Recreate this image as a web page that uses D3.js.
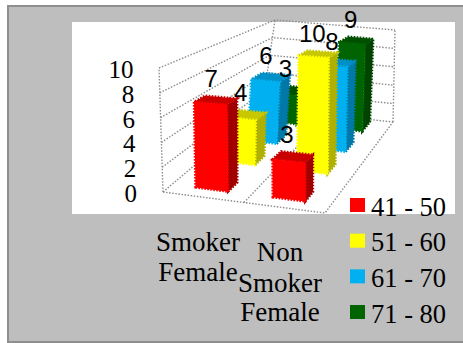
<!DOCTYPE html>
<html><head><meta charset="utf-8">
<script src="https://cdn.jsdelivr.net/npm/d3@7/dist/d3.min.js"></script>
<style>html,body{margin:0;padding:0;background:#fff}svg{display:block}</style>
</head><body><svg id="c" width="463" height="343"></svg>
<script>
const categories = ["Smoker Female", "Non Smoker Female"];
const seriesNames = ["41 - 50", "51 - 60", "61 - 70", "71 - 80"];
const seriesColors = ["#ff0000", "#ffff00", "#00b0f0", "#006400"];
const sideColors = ["#a00000", "#b0b000", "#0078a8", "#004400"];
const topColors = ["#c80000", "#c8c800", "#0090c8", "#005000"];
const smokerValues = [7, 4, 6, 3];
const nonSmokerValues = [3, 10, 8, 9];
const yTicks = [0, 2, 4, 6, 8, 10];

const svg = d3.select("#c");
svg.append("rect").attr("x", 8).attr("y", 6).attr("width", 460).attr("height", 336)
  .attr("fill", "#bebebe").attr("stroke", "#8e8e8e").attr("stroke-width", 2);
svg.append("rect").attr("x", 72).attr("y", 22).attr("width", 383).attr("height", 192).attr("fill", "#fff");

// Box corners of the 3D frame on screen
const floor = { fl: [163, 192], fr: [325, 213], bl: [262, 108], br: [393, 122] };
const wallH = { fl: 124, bl: 88, br: 92, fr: 134 };

const xs = d3.scaleBand().domain(categories).range([0, 0.97]);
const slot = d3.scalePoint().domain(seriesNames).range([0, 1]);
// Rows get closer together towards the back of the box
const depth = d3.scalePow().exponent(0.85).domain([0, 1]).range([0.09, 0.87]);
const zs = d3.scaleLinear().domain([0, 10]).range([0, 1]);
const barOffset = 0.148, barWidth = 0.205, barDepth = 0.105;

// u runs along the front edge, v runs towards the back, h is 0..1 of the wall height
function project(u, v, h) {
  const lerp = (a, b, t) => a + (b - a) * t;
  const fx = lerp(floor.fl[0], floor.fr[0], u), fy = lerp(floor.fl[1], floor.fr[1], u);
  const bx = lerp(floor.bl[0], floor.br[0], u), by = lerp(floor.bl[1], floor.br[1], u);
  const x = lerp(fx, bx, v), y = lerp(fy, by, v);
  const H = lerp(lerp(wallH.fl, wallH.fr, u), lerp(wallH.bl, wallH.br, u), v);
  return [x - 4 * h * (1 - u) * (1 - v) + 13 * h * v * (1 - u) + 2 * h * u * v, y - H * h];
}
const line = d3.line();
const chartG = svg.append("g");

// Dotted frame: walls, floor and the value grid
const frame = chartG.append("g").attr("fill", "none").attr("stroke", "#8c8c8c")
  .attr("stroke-width", 1.4).attr("stroke-dasharray", "1.5 1.6");
yTicks.forEach(t => {
  const h = zs(t);
  frame.append("path").attr("d", line([project(0, 0, h), project(0, 1, h), project(1, 1, h)]));
});
frame.append("path").attr("d", line([project(0, 0, 0), project(0, 0, 1)]));
frame.append("path").attr("d", line([project(0, 1, 0), project(0, 1, 1)]));
frame.append("path").attr("d", line([project(1, 1, 0), project(1, 1, 1)]));
frame.append("path").attr("d", line([project(0, 0, 0), project(1, 0, 0), project(1, 1, 0)]));
frame.append("path").attr("d", line([project(0.5, 0, 0), project(0.5, 1, 0)]));

// Bars, painted back to front
const table = [smokerValues, nonSmokerValues];
const bars = [];
categories.forEach((c, ci) => seriesNames.forEach((s, si) => bars.push({ c, ci, s, si, value: table[ci][si] })));
bars.sort((a, b) => (b.si - a.si) || (a.ci - b.ci));

const barG = chartG.append("g");
const labelG = svg.append("g").attr("font-family", "'Liberation Sans'").attr("font-size", 24).attr("fill", "#000").attr("text-anchor", "middle");
bars.forEach(b => {
  const u0 = xs(b.c) + barOffset, u1 = u0 + barWidth;
  const v0 = depth(slot(b.s)), v1 = v0 + barDepth;
  const h = zs(b.value);
  const faces = [
    { pts: [[u1, v0, 0], [u1, v1, 0], [u1, v1, h], [u1, v0, h]], fill: sideColors[b.si] },
    { pts: [[u0, v0, h], [u1, v0, h], [u1, v1, h], [u0, v1, h]], fill: topColors[b.si] },
    { pts: [[u0, v0, 0], [u1, v0, 0], [u1, v0, h], [u0, v0, h]], fill: seriesColors[b.si] }
  ];
  faces.forEach(f => {
    const p = f.pts.map(q => project(...q));
    barG.append("path").attr("d", line(p) + "Z").attr("fill", f.fill)
      .attr("stroke", f.fill).attr("stroke-width", 2.4).attr("stroke-dasharray", "1.6 1.4");
  });
  const top = project((u0 + u1) / 2, v1, h);
  labelG.append("text").attr("x", top[0] - 10).attr("y", top[1] - 10).text(b.value);
});

// Value axis labels, category labels and legend
const serif = "'Liberation Serif'";
const yAxisPos = d3.scaleLinear().domain([0, 10]).range([202, 78]);
const yAxisEdge = d3.scaleLinear().domain([0, 10]).range([137, 133.5]);
svg.append("g").attr("font-family", serif).attr("font-size", 25).attr("text-anchor", "end")
  .selectAll("text").data(yTicks).join("text")
  .attr("x", d => yAxisEdge(d)).attr("y", d => yAxisPos(d)).text(d => d);

const catLines = [["Smoker", "Female"], ["Non", "Smoker", "Female"]];
const catX = [198, 280], catY = [[251, 281], [261, 292, 321]];
const catG = svg.append("g").attr("font-family", serif).attr("font-size", 27).attr("text-anchor", "middle");
catLines.forEach((ls, i) => ls.forEach((t, j) =>
  catG.append("text").attr("x", catX[i]).attr("y", catY[i][j]).text(t)));

const legY = d3.scalePoint().domain(seriesNames).range([198, 305]);
const leg = svg.append("g");
seriesNames.forEach((s, i) => {
  leg.append("rect").attr("x", 350).attr("y", legY(s)).attr("width", 15).attr("height", 14).attr("fill", seriesColors[i]);
  leg.append("text").attr("x", 371).attr("y", legY(s) + 17.5).attr("font-family", serif).attr("font-size", 26.5).text(s);
});
</script></body></html>
